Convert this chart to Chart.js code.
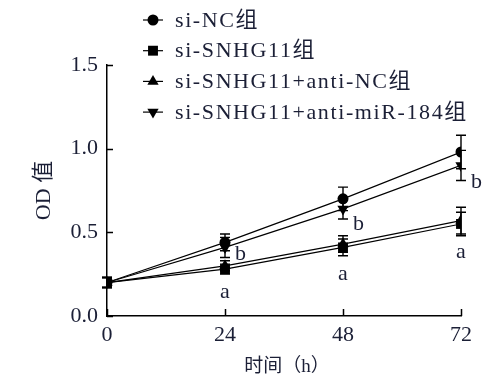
<!DOCTYPE html>
<html>
<head>
<meta charset="utf-8">
<script src="https://cdn.jsdelivr.net/npm/chart.js@4/dist/chart.umd.min.js"></script>
<style>
  html, body { margin: 0; padding: 0; background: #fff; }
  #wrap { width: 504px; height: 388px; position: relative; }
</style>
</head>
<body>
<div id="wrap"><canvas id="odChart"></canvas></div>
<script>
// time points (h)
const timePoints = [0, 24, 48, 72];
const yTicks = [0, 0.5, 1.0, 1.5];

// OD values and error bars
const siNC = [0.20, 0.44, 0.70, 0.98];
const siNCErr = [0.03, 0.05, 0.07, 0.10];
const siSNHG11 = [0.20, 0.28, 0.41, 0.55];
const siSNHG11Err = [0.03, 0.03, 0.05, 0.07];
const antiNC = [0.20, 0.30, 0.43, 0.57];
const antiNCErr = [0.03, 0.03, 0.05, 0.08];
const antiMiR184 = [0.20, 0.41, 0.64, 0.90];
const antiMiR184Err = [0.03, 0.06, 0.06, 0.09];

// significance letters (x, y in data units)
const letterA = [[24, 0.14], [48, 0.25], [72, 0.38]];
const letterB = [[24, 0.37], [48, 0.55], [72, 0.80]];

const seriesLabels = ['si-NC组', 'si-SNHG11组', 'si-SNHG11+anti-NC组', 'si-SNHG11+anti-miR-184组'];

const FONT = "'Liberation Serif', 'Noto Sans CJK SC', serif";
const TEXT = '#1b1f36';

function pts(vals) {
    return timePoints.map((t, i) => ({ x: t, y: vals[i] }));
}

function makeSet(label, vals, err, style, size, rot) {
    return {
        label: label,
        data: pts(vals),
        err: err,
        borderColor: '#000',
        backgroundColor: '#000',
        borderWidth: 1.2,
        pointStyle: style,
        pointRadius: size,
        pointRotation: rot || 0,
        pointBorderWidth: 0,
        tension: 0
    };
}

const datasets = [
    makeSet(seriesLabels[0], siNC, siNCErr, 'circle', 5.5),
    makeSet(seriesLabels[1], siSNHG11, siSNHG11Err, 'rect', 7),
    makeSet(seriesLabels[2], antiNC, antiNCErr, 'triangle', 6.5),
    makeSet(seriesLabels[3], antiMiR184, antiMiR184Err, 'triangle', 6.5, 180)
];

// error bars, axis ticks, titles, letters and legend
const decorations = {
    id: 'decorations',
    beforeDatasetsDraw(chart) {
        const ctx = chart.ctx;
        const xs = chart.scales.x, ys = chart.scales.y;
        ctx.save();
        ctx.strokeStyle = '#000';
        ctx.lineWidth = 1.4;
        chart.data.datasets.forEach(ds => {
            ds.data.forEach((p, i) => {
                const px = xs.getPixelForValue(p.x);
                const top = ys.getPixelForValue(p.y + ds.err[i]);
                const bot = ys.getPixelForValue(p.y - ds.err[i]);
                ctx.beginPath();
                ctx.moveTo(px, top); ctx.lineTo(px, bot);
                ctx.moveTo(px - 5, top); ctx.lineTo(px + 5, top);
                ctx.moveTo(px - 5, bot); ctx.lineTo(px + 5, bot);
                ctx.stroke();
            });
        });
        ctx.restore();
    },
    afterDraw(chart) {
        const ctx = chart.ctx;
        const xs = chart.scales.x, ys = chart.scales.y;
        const area = chart.chartArea;
        ctx.save();
        // inward ticks
        ctx.strokeStyle = '#000';
        ctx.lineWidth = 1.5;
        ctx.beginPath();
        yTicks.forEach(v => {
            const py = Math.round(ys.getPixelForValue(v)) + 0.5;
            ctx.moveTo(area.left, py); ctx.lineTo(area.left + 6, py);
        });
        timePoints.forEach(v => {
            const px = Math.round(xs.getPixelForValue(v)) + 0.5;
            ctx.moveTo(px, area.bottom); ctx.lineTo(px, area.bottom - 7);
        });
        ctx.stroke();

        ctx.fillStyle = TEXT;
        // axis titles
        ctx.font = '19px ' + FONT;
        ctx.textAlign = 'center';
        ctx.textBaseline = 'middle';
        ctx.fillText('时间（h）', (area.left + area.right) / 2 + 3, 367);
        ctx.save();
        ctx.font = '22px ' + FONT;
        ctx.translate(44, (area.top + area.bottom) / 2);
        ctx.rotate(-Math.PI / 2);
        ctx.fillText('OD 值', 0, 0);
        ctx.restore();

        // letters
        ctx.font = '22px ' + FONT;
        letterA.forEach(([x, y]) => {
            ctx.fillText('a', xs.getPixelForValue(x), ys.getPixelForValue(y));
        });
        ctx.textAlign = 'left';
        letterB.forEach(([x, y]) => {
            ctx.fillText('b', xs.getPixelForValue(x) + 10, ys.getPixelForValue(y));
        });

        // legend
        ctx.font = '22px ' + FONT;
        ctx.letterSpacing = '1.6px';
        chart.data.datasets.forEach((ds, i) => {
            const cy = 20 + i * 30.7;
            ctx.strokeStyle = '#000';
            ctx.lineWidth = 1.2;
            ctx.beginPath();
            ctx.moveTo(143, cy); ctx.lineTo(163, cy);
            ctx.stroke();
            ctx.fillStyle = '#000';
            Chart.helpers.drawPoint(ctx, {
                pointStyle: ds.pointStyle,
                radius: ds.pointRadius,
                rotation: ds.pointRotation,
                borderWidth: 0
            }, 153, cy);
            ctx.fillStyle = TEXT;
            ctx.fillText(ds.label, 175, cy + 1);
        });
        ctx.restore();
    }
};

new Chart(document.getElementById('odChart'), {
    type: 'line',
    data: { datasets: datasets },
    options: {
        responsive: true,
        maintainAspectRatio: false,
        animation: false,
        layout: { padding: { top: 65, right: 43, left: 0, bottom: 0 } },
        plugins: {
            legend: { display: false },
            tooltip: { enabled: false }
        },
        scales: {
            x: {
                type: 'linear',
                min: 0,
                max: 72,
                afterFit: (s) => { s.height = 72; },
                afterBuildTicks: (s) => { s.ticks = timePoints.map(v => ({ value: v })); },
                grid: { display: false, drawTicks: false },
                border: { display: true, color: '#000', width: 1.5 },
                ticks: { color: TEXT, padding: 6, font: { family: FONT, size: 22 } }
            },
            y: {
                min: 0,
                max: 1.5,
                afterFit: (s) => { s.width = 107; },
                afterBuildTicks: (s) => { s.ticks = yTicks.map(v => ({ value: v })); },
                grid: { display: false, drawTicks: false },
                border: { display: true, color: '#000', width: 1.5 },
                ticks: {
                    color: TEXT,
                    padding: 9,
                    font: { family: FONT, size: 22 },
                    callback: (v) => Number(v).toFixed(1)
                }
            }
        }
    },
    plugins: [decorations]
});
</script>
</body>
</html>
